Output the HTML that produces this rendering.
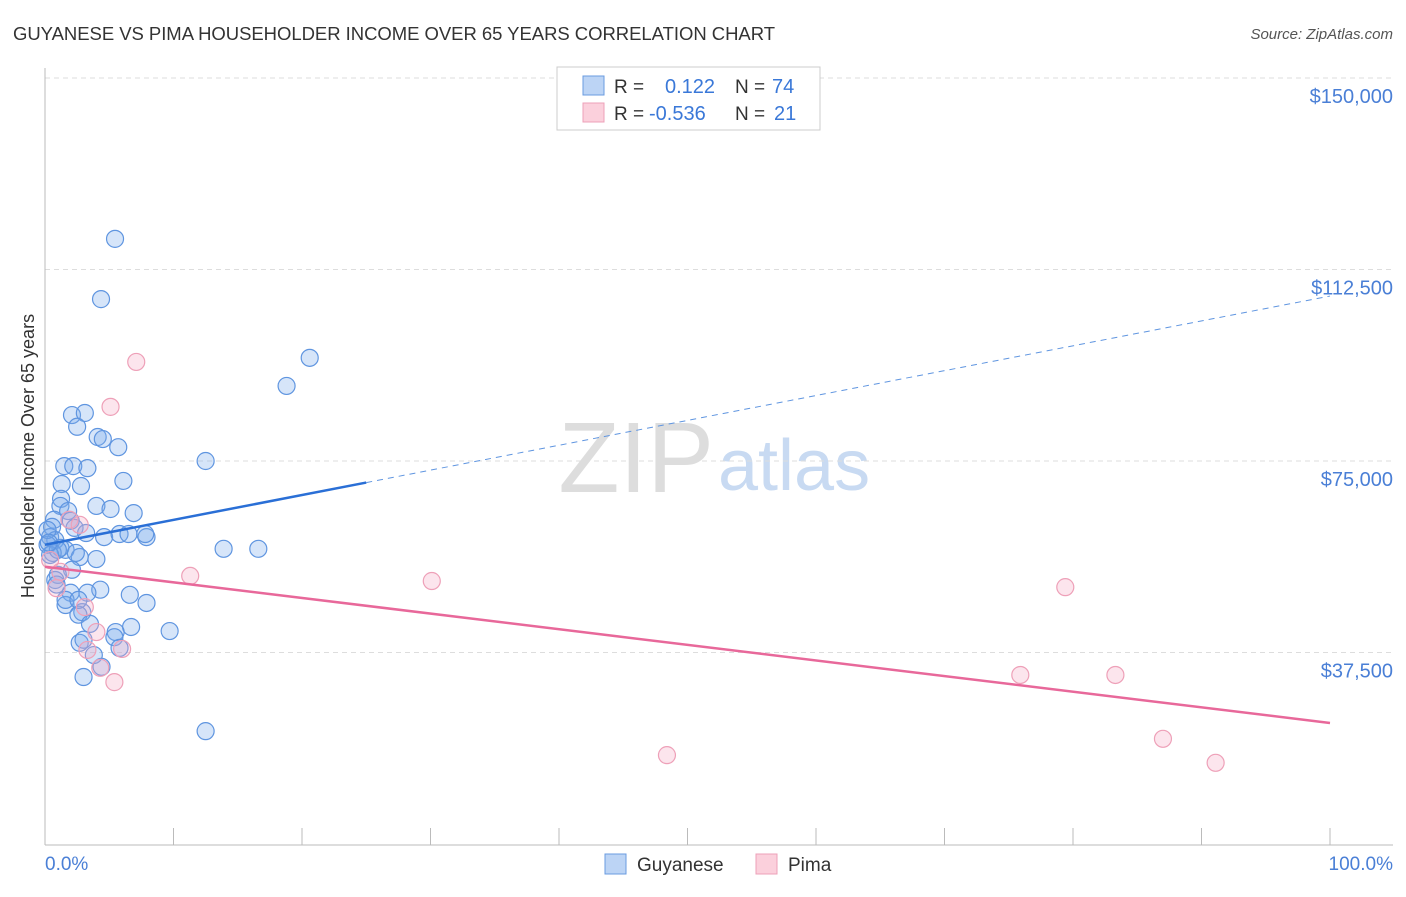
<!DOCTYPE html>
<html><head><meta charset="utf-8"><style>
body{margin:0;background:#fff;font-family:"Liberation Sans",sans-serif;}
svg text{font-family:"Liberation Sans",sans-serif;}
</style></head><body>
<svg id="chart" width="1406" height="892" viewBox="0 0 1406 892" xmlns="http://www.w3.org/2000/svg">
<text x="13" y="40" font-size="18.5" fill="#333" textLength="762">GUYANESE VS PIMA HOUSEHOLDER INCOME OVER 65 YEARS CORRELATION CHART</text>
<text x="1393" y="39" font-size="15" fill="#555" font-style="italic" text-anchor="end">Source: ZipAtlas.com</text>
<text x="714" y="492" font-size="100" fill="#ddd" text-anchor="end" font-family="Liberation Serif">ZIP</text>
<text x="718" y="490" font-size="72" fill="#c8daf2">atlas</text>
<g id="grid"></g>
<line x1="45" y1="68" x2="45" y2="845" stroke="#bbb"/>
<line x1="45" y1="845" x2="1393" y2="845" stroke="#bbb"/>
<text transform="translate(34,456) rotate(-90)" font-size="18" fill="#333" text-anchor="middle">Householder Income Over 65 years</text>
<text x="45" y="870" font-size="19" fill="#4a7fd6">0.0%</text>
<text x="1393" y="870" font-size="19" fill="#4a7fd6" text-anchor="end">100.0%</text>
<g id="marks"></g>
<g>
<rect x="557" y="67" width="263" height="63" fill="#fff" stroke="#ccc"/>
<rect x="583" y="76" width="21" height="19" fill="#bcd4f5" stroke="#6a9be0"/>
<rect x="583" y="103" width="21" height="19" fill="#fbd0dc" stroke="#eea0b8"/>
<text x="614" y="93" font-size="19" fill="#333">R =</text>
<text x="665" y="93" font-size="20" fill="#3a78d8">0.122</text>
<text x="735" y="93" font-size="19" fill="#333">N =</text>
<text x="772" y="93" font-size="20" fill="#3a78d8">74</text>
<text x="614" y="120" font-size="19" fill="#333">R =</text>
<text x="649" y="120" font-size="20" fill="#3a78d8">-0.536</text>
<text x="735" y="120" font-size="19" fill="#333">N =</text>
<text x="774" y="120" font-size="20" fill="#3a78d8">21</text>
</g>
<g><rect x="605" y="854" width="21" height="20" fill="#bcd4f5" stroke="#6a9be0"/><text x="637" y="871" font-size="19" fill="#333">Guyanese</text></g>
<g><rect x="756" y="854" width="21" height="20" fill="#fbd0dc" stroke="#eea0b8"/><text x="788" y="871" font-size="19" fill="#333">Pima</text></g>
</svg>
<script>
const yTicks=[37500,75000,112500,150000];
const yTickLabels=["$37,500","$75,000","$112,500","$150,000"];
const xTicks=[0,10,20,30,40,50,60,70,80,90,100];
const blueX=[5.45,4.36,20.6,18.8,2.1,3.1,2.5,4.1,4.5,5.7,12.5,1.5,2.2,3.3,6.1,1.3,2.8,1.25,4.0,5.1,6.9,1.2,1.8,2.0,2.3,0.7,0.55,3.2,4.6,5.8,6.5,7.9,7.8,0.4,0.8,0.2,1.2,1.6,0.6,13.9,16.6,2.7,4.0,2.1,1.0,0.8,2.0,4.3,6.6,7.9,1.6,3.3,2.9,2.6,3.5,6.7,5.5,5.4,9.7,2.7,3.8,4.4,3.0,5.8,12.5,0.4,0.2,0.9,1.6,2.6,1.0,2.4,3.0,0.3];
const blueY=[118.5,106.7,95.2,89.7,84.0,84.4,81.7,79.7,79.3,77.7,75.0,74.0,74.0,73.6,71.1,70.5,70.1,67.6,66.2,65.6,64.8,66.2,65.2,63.3,61.9,63.5,62.1,60.9,60.1,60.7,60.7,60.1,60.7,60.1,59.5,58.6,58.0,57.6,57.0,57.8,57.8,56.2,55.8,53.7,52.7,51.7,49.2,49.8,48.8,47.2,46.8,49.2,45.4,44.9,43.1,42.5,41.5,40.5,41.7,39.4,37.0,34.7,32.7,38.4,22.1,56.6,61.5,50.8,47.8,47.8,57.6,57.0,40.0,59.0];
const pinkX=[7.1,5.1,1.9,0.4,1.2,0.9,3.1,4.0,3.3,6.0,4.3,5.4,11.3,30.1,79.4,75.9,83.3,48.4,87.0,91.1,2.7];
const pinkY=[94.4,85.6,63.5,55.6,53.3,50.1,46.4,41.5,38.0,38.2,34.5,31.7,52.5,51.5,50.3,33.1,33.1,17.4,20.6,15.9,62.5];
const blueTrend=[58.6,107.3];
const pinkTrend=[54.3,23.7];
const X=p=>45+p*12.85;
const Y=v=>844-v/37500*191.5;
const NS="http://www.w3.org/2000/svg";
const grid=document.getElementById('grid'),marks=document.getElementById('marks');
function mk(tag,attrs,parent){const e=document.createElementNS(NS,tag);for(const k in attrs)e.setAttribute(k,attrs[k]);parent.appendChild(e);return e;}
yTicks.forEach((t,i)=>{
  const l=mk('line',{x1:45,x2:1393,y1:Y(t),y2:Y(t),stroke:'#ddd','stroke-dasharray':'5,4'},grid);
  
  
  const tx=mk('text',{x:1393,y:Y(t)+25,'font-size':20,fill:'#4a7fd6','text-anchor':'end'},grid);
  tx.textContent=yTickLabels[i];
  
  
});
xTicks.forEach(t=>{
  const l=mk('line',{x1:X(t),x2:X(t),y1:828,y2:845,stroke:'#bbb'},grid);
  
  
});
blueX.forEach((x,i)=>{
  const c=mk('circle',{cx:X(x),cy:Y(blueY[i]*1000),r:8.5,fill:'rgba(120,168,235,0.3)',stroke:'#5f95e0','stroke-width':1.2},marks);
  
  
});
pinkX.forEach((x,i)=>{
  const c=mk('circle',{cx:X(x),cy:Y(pinkY[i]*1000),r:8.5,fill:'rgba(245,170,195,0.3)',stroke:'#eea0b8','stroke-width':1.2},marks);
  
  
});
const bAt=p=>blueTrend[0]+(blueTrend[1]-blueTrend[0])*p/100;
const b1=mk('line',{x1:X(0),y1:Y(bAt(0)*1000),x2:X(25),y2:Y(bAt(25)*1000),stroke:'#2a6fd6','stroke-width':2.5},marks);


const b2=mk('line',{x1:X(25),y1:Y(bAt(25)*1000),x2:X(100),y2:Y(bAt(100)*1000),stroke:'#5f95e0','stroke-width':1,'stroke-dasharray':'6,5'},marks);


const p1=mk('line',{x1:X(0),y1:Y(pinkTrend[0]*1000),x2:X(100),y2:Y(pinkTrend[1]*1000),stroke:'#e8689a','stroke-width':2.5},marks);


</script>
</body></html>
